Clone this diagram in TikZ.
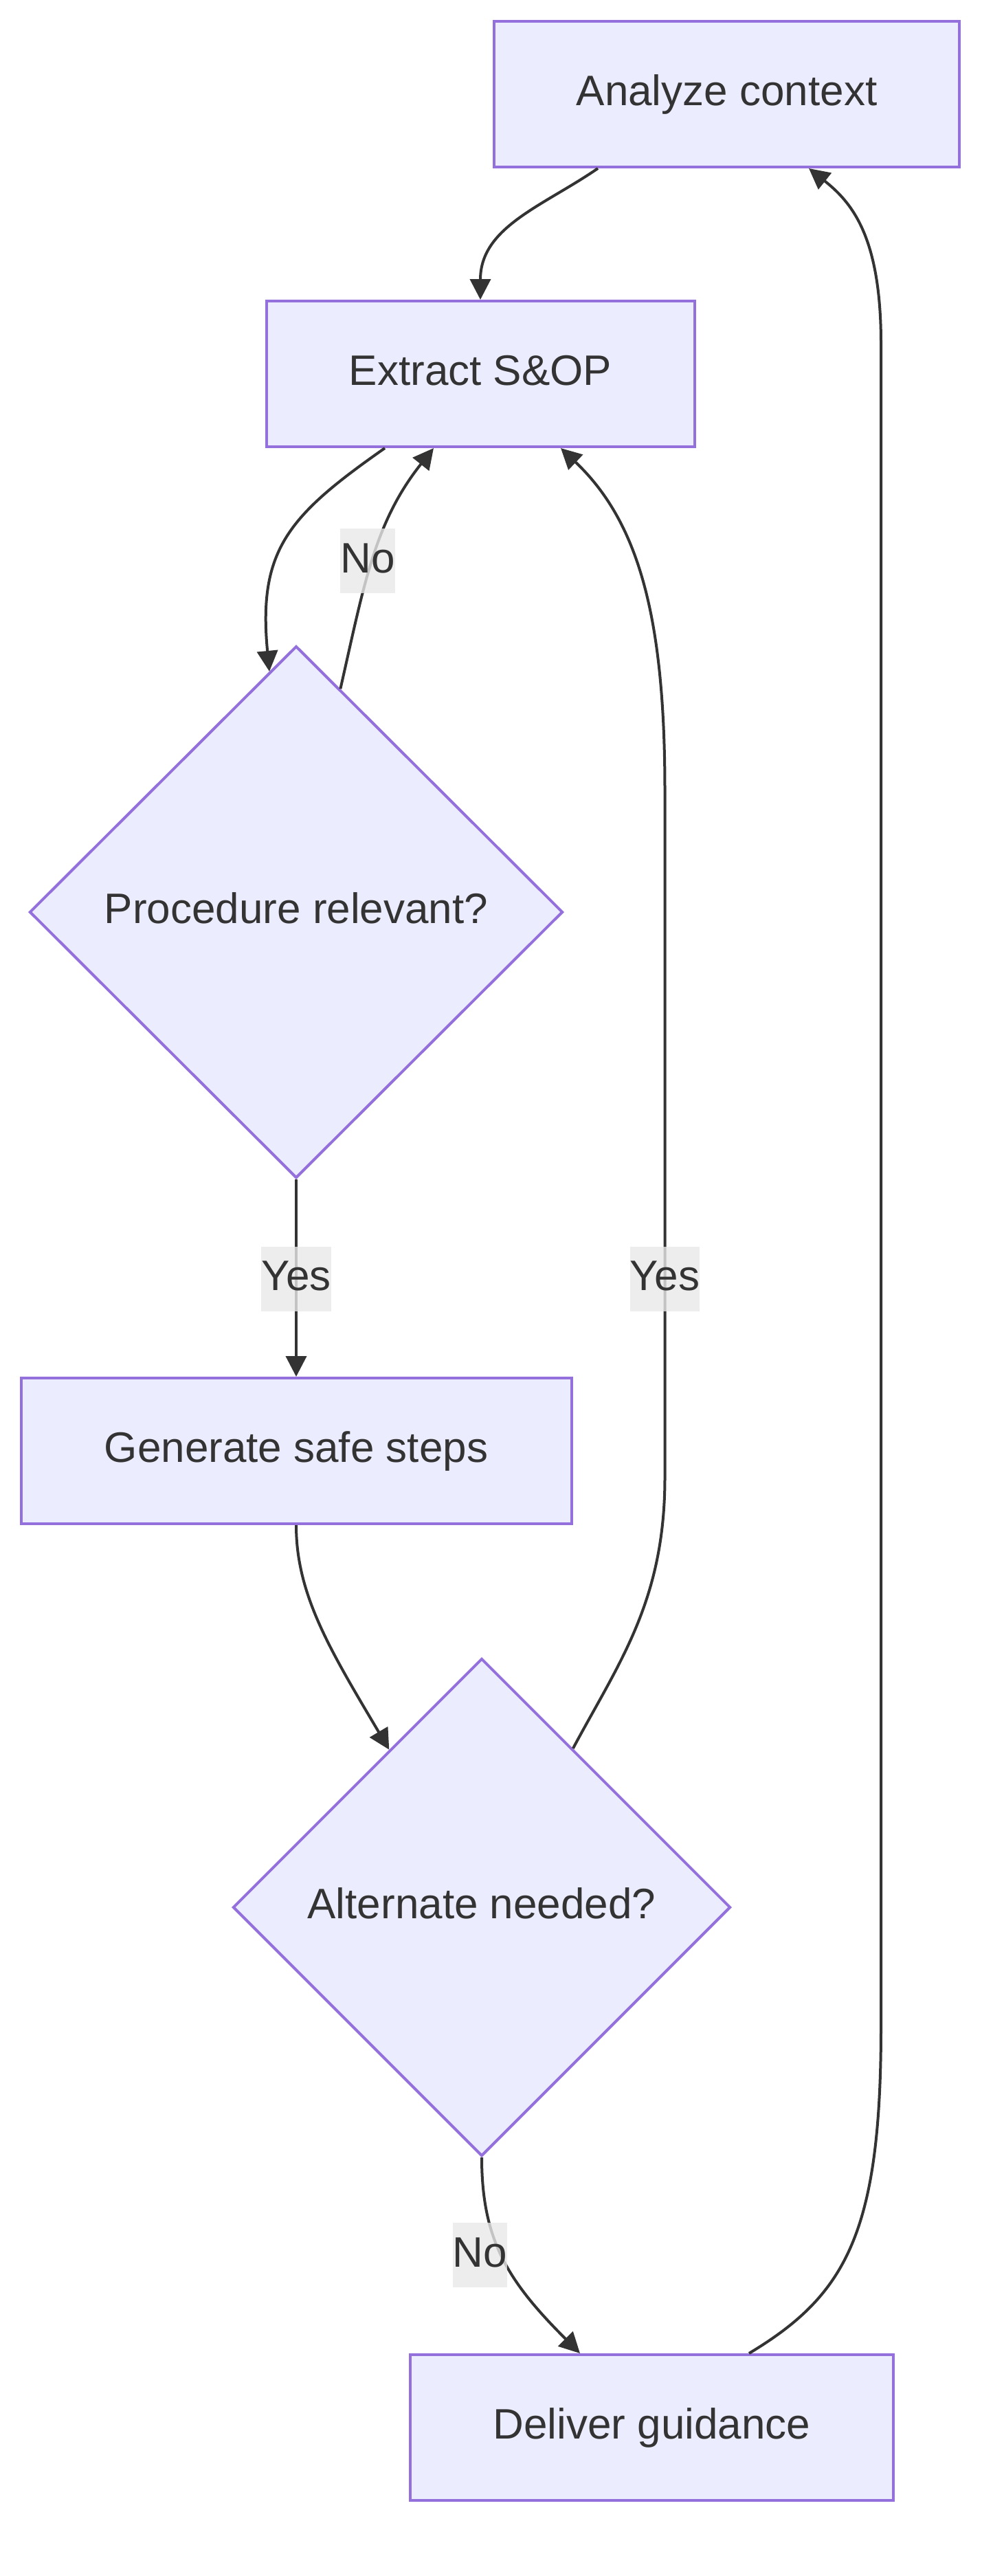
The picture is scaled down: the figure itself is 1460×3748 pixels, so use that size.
\documentclass[tikz,border=0pt]{standalone}
\usepackage{fontspec}
\setmainfont{Liberation Sans}
\usetikzlibrary{shapes.geometric,arrows.meta,calc}
\definecolor{nodefill}{HTML}{ECECFF}
\definecolor{nodestroke}{HTML}{9370DB}
\definecolor{edgecol}{HTML}{333333}
\definecolor{labelfill}{HTML}{E8E8E8}
\begin{document}
\begin{tikzpicture}[x=1pt,y=-1pt,
  every node/.style={font=\fontsize{62}{74}\selectfont, text=edgecol},
  procbox/.style={draw=nodestroke, fill=nodefill, line width=4pt, inner sep=0pt, minimum height=212pt, text height=45pt, text depth=13pt},
  decbox/.style={shape=diamond, draw=nodestroke, fill=nodefill, line width=4pt, inner sep=0pt, text height=45pt, text depth=13pt},
  conn/.style={draw=edgecol, line width=4pt, -{Triangle[length=30pt,width=30pt]}},
  elabel/.style={fill=labelfill, fill opacity=0.8, text opacity=1, inner xsep=0pt, inner ysep=0pt, minimum height=94pt, text height=45pt, text depth=11pt}
]
\useasboundingbox (0,0) rectangle (1460,3748);

\node[procbox, minimum width=677pt] (A) at (1057.5,137) {Analyze context};
\node[procbox, minimum width=623pt] (E) at (699,544) {Extract S\&OP};
\node[decbox, minimum width=776pt, minimum height=774pt] (P) at (431,1327) {Procedure relevant?};
\node[procbox, minimum width=801pt] (G) at (431,2111) {Generate safe steps};
\node[decbox, minimum width=724pt, minimum height=724pt] (D) at (701,2775) {Alternate needed?};
\node[procbox, minimum width=703pt] (V) at (948.5,3532) {Deliver guidance};

% Analyze -> Extract
\draw[conn] ([xshift=-187.5pt]A.south) .. controls (790,300) and (699,330) .. (E.north);
% Extract -> Procedure
\draw[conn] ([xshift=-139pt]E.south) .. controls (420,750) and (375,800) .. ($(P.north)!0.1!(P.west)$);
% Procedure -> Extract (No)
\draw[conn] ($(P.north)!0.165!(P.east)$) .. controls (530,850) and (545,760) .. ([xshift=-68pt]E.south);
% Procedure -> Generate (Yes)
\draw[conn] (P.south) -- (G.north);
% Generate -> Alternate
\draw[conn] (G.south) .. controls (431,2320) and (480,2400) .. ($(D.north)!0.37!(D.west)$);
% Alternate -> Extract (Yes)
\draw[conn] ($(D.north)!0.365!(D.east)$) .. controls (900,2420) and (967.5,2330) .. (967.5,2150) -- (967.5,1150) .. controls (967.5,900) and (930,760) .. ([xshift=117pt]E.south);
% Alternate -> Deliver (No)
\draw[conn] (D.south) .. controls (701,3260) and (740,3320) .. ([xshift=-104.5pt]V.north);
% Deliver -> Analyze
\draw[conn] ([xshift=141.5pt]V.north) .. controls (1230,3340) and (1282,3250) .. (1282,2950) -- (1282,500) .. controls (1282,345) and (1240,295) .. ([xshift=119.5pt]A.south);

\node[elabel] (l1) at (535,816) {No};
\node[elabel] (l2) at (431,1860.5) {Yes};
\node[elabel] (l3) at (967.5,1860.5) {Yes};
\node[elabel] (l4) at (698.5,3281) {No};
\end{tikzpicture}
\end{document}
